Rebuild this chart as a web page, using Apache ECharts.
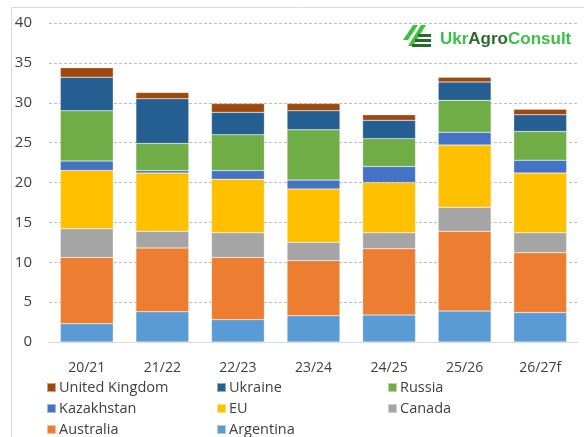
<!DOCTYPE html>
<html>
<head>
<meta charset="utf-8">
<script src="https://cdn.jsdelivr.net/npm/echarts@6/dist/echarts.min.js"></script>
<style>
  html, body { margin: 0; padding: 0; background: #fff; }
  #main { width: 584px; height: 437px; }
</style>
</head>
<body>
<div id="main"></div>
<script>
// marketing years
var seasons = ['20/21', '21/22', '22/23', '23/24', '24/25', '25/26', '26/27f'];

// exports per exporter, stacked bottom -> top
var argentina  = [2.3, 3.8, 2.8, 3.3, 3.4, 3.9, 3.7];
var australia  = [8.3, 8.0, 7.8, 6.9, 8.3, 10.0, 7.5];
var canada     = [3.6, 2.1, 3.1, 2.3, 2.0, 3.0, 2.5];
var eu         = [7.3, 7.3, 6.7, 6.7, 6.3, 7.8, 7.5];
var kazakhstan = [1.2, 0.3, 1.1, 1.1, 2.0, 1.6, 1.6];
var russia     = [6.3, 3.4, 4.5, 6.3, 3.5, 4.0, 3.6];
var ukraine    = [4.2, 5.6, 2.8, 2.4, 2.3, 2.3, 2.1];
var uk         = [1.2, 0.8, 1.1, 0.9, 0.7, 0.6, 0.7];

var yTicks = [0, 5, 10, 15, 20, 25, 30, 35, 40];

var chart = echarts.init(document.getElementById('main'));

function bar(name, data, color) {
  return {
    name: name,
    type: 'bar',
    stack: 'total',
    barWidth: '70%',
    data: data,
    itemStyle: { color: color, borderColor: 'rgba(255,255,255,0.5)', borderWidth: 0.5 },
    emphasis: { disabled: true }
  };
}

var txt = { fontFamily: 'Open Sans', fontSize: 14, color: '#404040' };

// one legend per entry, laid out in a 3-column grid like the original
function legendItem(name, left, top) {
  return {
    left: left,
    top: top,
    itemWidth: 9,
    itemHeight: 9,
    icon: 'rect',
    padding: 0,
    textStyle: { fontFamily: 'Open Sans', fontSize: 14.5, color: '#404040', padding: [0, 0, 0, -2] },
    data: [name]
  };
}

var option = {
  animation: false,
  grid: { left: 49, right: 6, top: 23, bottom: 95 },
  xAxis: {
    type: 'category',
    data: seasons,
    axisLine: { lineStyle: { color: '#d9d9d9', width: 1 } },
    axisTick: { show: false },
    axisLabel: Object.assign({ margin: 19 }, txt)
  },
  yAxis: {
    type: 'value',
    min: yTicks[0],
    max: yTicks[yTicks.length - 1],
    interval: 5,
    axisLine: { show: false },
    axisTick: { show: false },
    axisLabel: Object.assign({ margin: 17 }, txt, { fontSize: 15 }),
    splitLine: { lineStyle: { color: '#bfbfbf', type: [3, 2], width: 1 } }
  },
  legend: [
    legendItem('United Kingdom', 46, 380),
    legendItem('Ukraine', 216, 380),
    legendItem('Russia', 387, 380),
    legendItem('Kazakhstan', 46, 401),
    legendItem('EU', 216, 401),
    legendItem('Canada', 387, 401),
    legendItem('Australia', 46, 422),
    legendItem('Argentina', 216, 422)
  ],
  graphic: [
    { type: 'rect', silent: true, shape: { x: 11.5, y: 7.5, width: 700, height: 600 },
      style: { fill: 'none', stroke: '#d9d9d9', lineWidth: 1 } },
    // logo mark
    { type: 'polygon', shape: { points: [[413, 25], [418, 25], [408, 40], [403, 40]] }, style: { fill: '#3cc13b' } },
    { type: 'polygon', shape: { points: [[421, 25], [426, 25], [413, 46], [408, 46]] }, style: { fill: '#3cc13b' } },
    { type: 'rect', shape: { x: 418, y: 34, width: 13, height: 3 }, style: { fill: '#2a6a2a' } },
    { type: 'rect', shape: { x: 415, y: 39, width: 16, height: 3 }, style: { fill: '#2a6a2a' } },
    { type: 'rect', shape: { x: 412, y: 44, width: 19, height: 3 }, style: { fill: '#2a6a2a' } },
    {
      type: 'text', left: 440, top: 31,
      style: {
        text: '{a|Ukr}{b|Agro}{a|Consult}',
        rich: {
          a: { fontFamily: 'Liberation Sans', fontWeight: 'bold', fontSize: 17, fill: '#3cbf45' },
          b: { fontFamily: 'Liberation Sans', fontWeight: 'bold', fontSize: 17, fill: '#2d6a2d' }
        }
      }
    }
  ],
  series: [
    bar('Argentina', argentina, '#5b9bd5'),
    bar('Australia', australia, '#ed7d31'),
    bar('Canada', canada, '#a5a5a5'),
    bar('EU', eu, '#ffc000'),
    bar('Kazakhstan', kazakhstan, '#4472c4'),
    bar('Russia', russia, '#70ad47'),
    bar('Ukraine', ukraine, '#255e91'),
    bar('United Kingdom', uk, '#9e480e')
  ]
};

chart.setOption(option);
</script>
</body>
</html>
